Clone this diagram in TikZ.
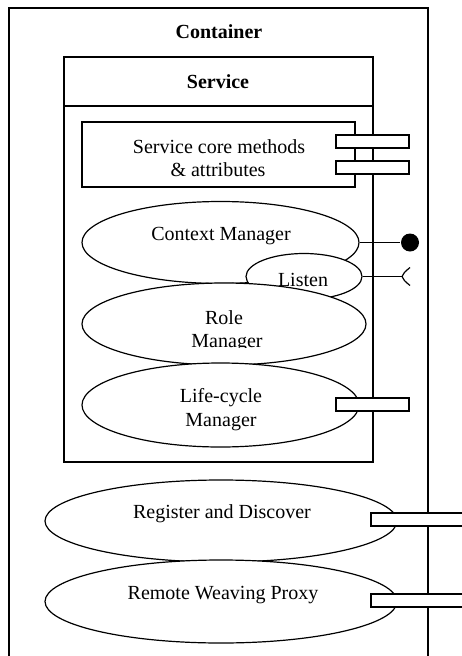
\documentclass[tikz,border=0pt]{standalone}
\usepackage{fontspec}
\setmainfont{Liberation Serif}
\usetikzlibrary{shapes.geometric}
\begin{document}
\begin{tikzpicture}[x=1pt,y=-1pt,line width=1.2pt,
  usecase/.style={ellipse, draw, fill=white, inner sep=0pt},
  portbox/.style={rectangle, draw, fill=white, inner sep=0pt, minimum height=13pt},
  lbl/.style={anchor=base, inner sep=0pt, font=\fontsize{20}{23}\selectfont},
  heading/.style={anchor=base, inner sep=0pt, font=\fontsize{20}{23}\selectfont\bfseries}]
\clip (0,0) rectangle (462,656);

% container and service frames
\draw (9,8) rectangle (428,700);
\node[heading] (tcont) at (219,38) {Container};
\draw (64,57) rectangle (373,462);
\draw (64,106) -- (373,106);
\node[heading] (tserv) at (218,88) {Service};

% core block
\draw (82,122) rectangle (355,187);
\node[lbl] (tcore1) at (219,153) {Service core methods};
\node[lbl] (tcore2) at (218,176) {\& attributes};

% use cases inside the service
\node[usecase, minimum width=277pt, minimum height=82pt] (cm) at (220.5,242.5) {};
\node[lbl] (tcm) at (221,240) {Context Manager};
\node[usecase, minimum width=116pt, minimum height=46pt] (listen) at (304,276.5) {};
\node[lbl] (tlisten) at (303,286) {Listen};
\node[usecase, minimum width=284pt, minimum height=82pt] (role) at (224,324) {};
\node[lbl] (trole1) at (224,324) {Role};
\begin{scope}
  \clip (80,330) rectangle (370,347.5);
  \node[lbl] (trole2) at (227,347) {Manager};
\end{scope}
\node[usecase, minimum width=277pt, minimum height=84pt] (life) at (220.5,405) {};
\node[lbl] (tlife1) at (221,402) {Life-cycle};
\begin{scope}
  \clip (80,405) rectangle (370,430);
  \node[lbl] (tlife2) at (221,426) {Manager};
\end{scope}

% use cases of the container
\node[usecase, minimum width=352pt, minimum height=82pt] (reg) at (221,521) {};
\node[lbl] (treg) at (222,518) {Register and Discover};
\node[usecase, minimum width=352pt, minimum height=83pt] (rem) at (221,601.5) {};
\node[lbl] (trem) at (223,599) {Remote Weaving Proxy};

% provided and required interfaces
\node[circle, fill, inner sep=0pt, minimum size=18pt] (ball) at (410,242.5) {};
\draw (cm.east) -- (ball.west);
\coordinate (sock) at (402,276.5);
\draw (listen.east) -- (sock);
\draw ([shift={(8,-9)}]sock) .. controls ([shift={(2,-4)}]sock) .. (sock)
      .. controls ([shift={(2,4)}]sock) .. ([shift={(8,9)}]sock);

% ports
\node[portbox, minimum width=73pt] (p1) at (372.5,141.5) {};
\node[portbox, minimum width=73pt] (p2) at (372.5,167.5) {};
\node[portbox, minimum width=73pt] (p3) at (372.5,404.5) {};
\node[portbox, minimum width=99pt] (p4) at (420.5,519.5) {};
\node[portbox, minimum width=99pt] (p5) at (420.5,600.5) {};
\end{tikzpicture}
\end{document}
